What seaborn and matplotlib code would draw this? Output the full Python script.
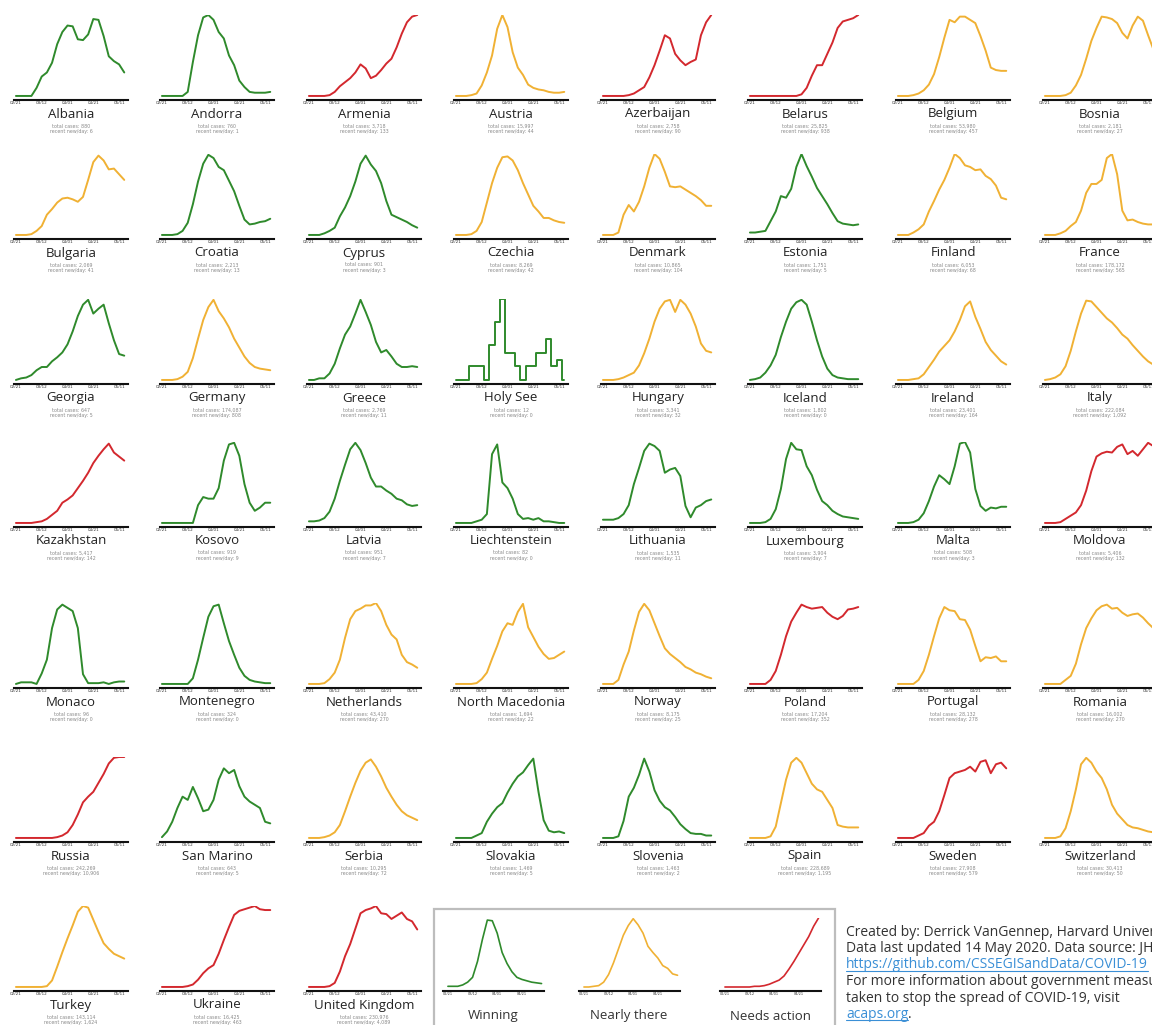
import matplotlib
matplotlib.use("Agg")
import matplotlib.pyplot as plt
import seaborn as sns
from matplotlib.patches import Rectangle
from matplotlib.lines import Line2D

# ---------------- data ----------------
days = list(range(0, 85, 4))              # days after 02/21
tick_days = [0, 20, 40, 60, 80]
tick_labels = ["02/21", "03/12", "04/01", "04/21", "05/11"]
legend_days = list(range(0, 77, 4))
legend_tick_days = [0, 20, 40, 60]
legend_tick_labels = ["02/21", "03/12", "04/01", "04/21"]

# new cases per day, smoothed, in % of each country's own peak
albania = [0, 0, 0, 0, 10, 24, 29, 41, 64, 79, 87, 86, 70, 69, 76, 95, 94, 74, 49, 43, 39, 29]
andorra = [0, 0, 0, 0, 0, 5, 42, 75, 97, 100, 94, 79, 71, 50, 38, 19, 11, 5, 4, 4, 4, 5]
armenia = [0, 0, 0, 0, 1, 5, 12, 17, 22, 29, 39, 34, 22, 25, 32, 40, 46, 60, 77, 91, 98, 100]
austria = [0, 0, 0, 1, 3, 13, 29, 50, 83, 100, 85, 54, 35, 26, 14, 10, 8, 7, 5, 4, 4, 5]
azerbaijan = [0, 0, 0, 0, 0, 1, 3, 7, 11, 23, 38, 56, 75, 71, 52, 44, 38, 42, 45, 75, 91, 100]
belarus = [0, 0, 0, 0, 0, 0, 0, 0, 0, 0, 2, 10, 25, 38, 38, 52, 66, 84, 92, 94, 96, 100]
belgium = [0, 0, 0, 1, 3, 7, 14, 27, 48, 72, 94, 91, 98, 98, 94, 90, 74, 56, 35, 32, 31, 31]
bosnia = [0, 0, 0, 0, 1, 4, 13, 26, 46, 68, 84, 98, 97, 95, 90, 78, 71, 87, 98, 93, 75, 58]
bulgaria = [0, 0, 0, 1, 5, 11, 25, 32, 40, 45, 46, 44, 41, 47, 68, 90, 98, 92, 81, 82, 75, 68]
croatia = [0, 0, 0, 1, 5, 15, 38, 66, 88, 99, 95, 84, 80, 67, 54, 36, 19, 13, 14, 16, 17, 20]
cyprus = [0, 0, 0, 2, 5, 9, 23, 34, 48, 66, 88, 98, 87, 79, 64, 42, 25, 22, 19, 16, 12, 9]
czechia = [0, 0, 0, 1, 5, 16, 40, 64, 83, 96, 97, 92, 80, 64, 50, 36, 29, 21, 21, 18, 16, 15]
denmark = [0, 0, 0, 3, 25, 37, 29, 41, 60, 83, 100, 94, 78, 60, 59, 60, 56, 52, 48, 43, 36, 36]
estonia = [3, 3, 4, 5, 17, 29, 48, 46, 57, 84, 100, 85, 72, 58, 48, 38, 27, 17, 14, 13, 12, 13]
finland = [0, 0, 0, 3, 7, 13, 29, 42, 56, 68, 83, 100, 95, 86, 84, 80, 81, 73, 69, 61, 46, 44]
france = [0, 0, 0, 2, 5, 11, 16, 30, 52, 63, 63, 68, 95, 100, 75, 30, 18, 19, 16, 14, 13, 13]
georgia = [0, 2, 3, 6, 12, 16, 16, 23, 28, 34, 44, 60, 79, 93, 99, 82, 88, 93, 70, 49, 32, 30]
germany = [0, 0, 0, 1, 4, 10, 27, 51, 74, 90, 99, 85, 76, 65, 51, 40, 29, 21, 16, 14, 13, 12]
greece = [0, 0, 2, 2, 8, 20, 39, 56, 66, 82, 99, 84, 68, 47, 34, 37, 29, 20, 16, 16, 17, 16]
holy_see = [0, 0, 0, 17, 17, 17, 0, 43, 72, 100, 33, 33, 17, 0, 17, 17, 33, 33, 50, 17, 25, 0]
hungary = [0, 0, 0, 1, 3, 6, 9, 18, 33, 51, 72, 88, 97, 99, 84, 99, 93, 82, 66, 45, 36, 34]
iceland = [0, 1, 3, 9, 18, 31, 53, 72, 88, 96, 99, 93, 72, 49, 29, 14, 6, 3, 2, 1, 1, 1]
ireland = [0, 0, 0, 1, 2, 7, 16, 25, 35, 42, 49, 60, 74, 91, 97, 78, 63, 47, 37, 30, 23, 19]
italy = [0, 1, 3, 7, 17, 36, 60, 82, 98, 97, 90, 83, 76, 71, 64, 56, 51, 43, 36, 29, 23, 19]
kazakhstan = [0, 0, 0, 0, 1, 2, 5, 10, 15, 25, 29, 34, 43, 52, 62, 74, 83, 91, 98, 87, 82, 77]
kosovo = [0, 0, 0, 0, 0, 0, 0, 22, 32, 30, 30, 43, 77, 97, 99, 83, 48, 25, 15, 19, 25, 25]
latvia = [2, 2, 3, 6, 14, 30, 52, 72, 91, 99, 90, 74, 56, 45, 45, 40, 36, 30, 28, 23, 21, 22]
liechtenstein = [0, 0, 0, 0, 2, 4, 11, 85, 97, 50, 43, 30, 11, 5, 6, 4, 6, 2, 2, 1, 0, 0]
lithuania = [4, 4, 4, 6, 11, 22, 48, 68, 89, 98, 95, 89, 62, 66, 68, 58, 21, 7, 19, 22, 27, 29]
luxembourg = [0, 0, 0, 1, 5, 17, 42, 79, 99, 91, 90, 70, 59, 41, 27, 22, 15, 11, 8, 7, 6, 5]
malta = [0, 0, 0, 1, 4, 12, 27, 45, 59, 54, 48, 70, 98, 100, 87, 42, 21, 15, 19, 18, 20, 20]
moldova = [0, 0, 0, 1, 5, 9, 13, 22, 40, 64, 82, 86, 88, 87, 94, 97, 85, 89, 83, 91, 99, 95]
monaco = [0, 2, 2, 2, 0, 13, 30, 69, 92, 98, 94, 90, 69, 12, 1, 1, 1, 2, 0, 2, 3, 3]
montenegro = [0, 0, 0, 0, 0, 0, 7, 30, 57, 83, 96, 98, 75, 53, 36, 20, 10, 5, 3, 2, 1, 1]
netherlands = [0, 0, 0, 1, 6, 14, 30, 57, 80, 90, 93, 97, 97, 100, 90, 73, 61, 55, 36, 27, 24, 20]
north_macedonia = [0, 0, 0, 0, 1, 6, 14, 31, 47, 65, 75, 73, 89, 99, 70, 58, 46, 37, 31, 32, 36, 40]
norway = [0, 0, 0, 5, 24, 40, 66, 89, 99, 91, 75, 59, 44, 37, 32, 27, 21, 18, 14, 12, 9, 7]
poland = [0, 0, 0, 0, 5, 16, 36, 59, 77, 88, 98, 95, 93, 94, 95, 88, 83, 80, 84, 92, 93, 95]
portugal = [0, 0, 0, 0, 5, 16, 36, 59, 81, 95, 91, 90, 80, 79, 67, 47, 28, 33, 32, 34, 28, 28]
romania = [0, 0, 0, 0, 5, 10, 25, 49, 69, 81, 91, 96, 98, 93, 94, 88, 84, 86, 87, 82, 75, 69]
russia = [0, 0, 0, 0, 0, 0, 0, 0, 1, 3, 7, 16, 29, 44, 51, 57, 68, 79, 92, 99, 100, 100]
san_marino = [1, 8, 20, 37, 51, 47, 63, 49, 33, 35, 47, 72, 86, 80, 84, 64, 51, 45, 41, 37, 20, 18]
serbia = [0, 0, 0, 1, 3, 7, 16, 33, 51, 68, 83, 93, 97, 88, 76, 62, 51, 41, 33, 28, 25, 22]
slovakia = [0, 0, 0, 0, 3, 6, 20, 30, 38, 43, 56, 67, 76, 81, 90, 98, 57, 22, 9, 7, 8, 6]
slovenia = [0, 0, 0, 2, 21, 51, 62, 78, 98, 82, 59, 46, 38, 34, 26, 17, 11, 6, 5, 5, 3, 3]
spain = [0, 0, 0, 0, 2, 14, 43, 72, 93, 99, 93, 80, 67, 60, 57, 47, 37, 16, 14, 13, 13, 13]
sweden = [0, 0, 0, 0, 3, 6, 15, 20, 33, 53, 74, 80, 82, 84, 88, 82, 94, 96, 80, 91, 93, 86]
switzerland = [0, 0, 0, 2, 12, 33, 60, 91, 99, 93, 82, 74, 60, 41, 30, 23, 16, 13, 12, 10, 8, 7]
turkey = [0, 0, 0, 0, 0, 0, 1, 8, 25, 43, 60, 76, 93, 100, 98, 83, 68, 54, 47, 41, 38, 35]
ukraine = [0, 0, 0, 0, 0, 1, 3, 9, 17, 23, 27, 41, 58, 74, 89, 94, 96, 98, 100, 96, 95, 95]
united_kingdom = [0, 0, 0, 0, 1, 5, 19, 38, 53, 72, 91, 95, 97, 100, 91, 90, 84, 88, 92, 84, 81, 71]

legend_winning = [1, 1, 1, 3, 7, 14, 37, 69, 97, 96, 78, 50, 34, 22, 14, 11, 9, 7, 6, 5]
legend_nearly = [0, 0, 1, 2, 7, 18, 35, 55, 75, 89, 99, 90, 78, 59, 50, 42, 31, 27, 19, 17]
legend_action = [0, 0, 0, 0, 0, 0, 1, 1, 2, 4, 7, 10, 16, 26, 37, 49, 61, 73, 88, 100]
legend_names = ["Winning", "Nearly there", "Needs action"]

countries = ["Albania", "Andorra", "Armenia", "Austria", "Azerbaijan", "Belarus", "Belgium", "Bosnia",
             "Bulgaria", "Croatia", "Cyprus", "Czechia", "Denmark", "Estonia", "Finland", "France",
             "Georgia", "Germany", "Greece", "Holy See", "Hungary", "Iceland", "Ireland", "Italy",
             "Kazakhstan", "Kosovo", "Latvia", "Liechtenstein", "Lithuania", "Luxembourg", "Malta", "Moldova",
             "Monaco", "Montenegro", "Netherlands", "North Macedonia", "Norway", "Poland", "Portugal", "Romania",
             "Russia", "San Marino", "Serbia", "Slovakia", "Slovenia", "Spain", "Sweden", "Switzerland",
             "Turkey", "Ukraine", "United Kingdom"]
statuses = ["win", "win", "act", "near", "act", "act", "near", "near",
            "near", "win", "win", "near", "near", "win", "near", "near",
            "win", "near", "win", "win", "near", "win", "near", "near",
            "act", "win", "win", "win", "win", "win", "win", "act",
            "win", "win", "near", "near", "near", "act", "near", "near",
            "act", "win", "near", "win", "win", "near", "act", "near",
            "near", "act", "act"]
total_cases = ["880", "760", "3,718", "15,997", "2,758", "25,825", "53,980", "2,181",
               "2,069", "2,213", "901", "8,269", "10,865", "1,751", "6,053", "178,172",
               "647", "174,087", "2,769", "12", "3,341", "1,802", "23,401", "222,084",
               "5,417", "919", "951", "82", "1,535", "3,904", "508", "5,406",
               "96", "324", "43,410", "1,694", "8,175", "17,204", "28,132", "16,002",
               "242,269", "643", "10,295", "1,469", "1,463", "228,689", "27,908", "30,413",
               "143,114", "16,425", "230,976"]
recent_new = ["6", "1", "133", "44", "90", "938", "457", "27",
              "41", "13", "3", "42", "104", "5", "68", "565",
              "5", "808", "11", "0", "32", "0", "164", "1,092",
              "142", "9", "7", "0", "11", "7", "3", "132",
              "0", "0", "270", "22", "25", "352", "278", "270",
              "10,906", "5", "72", "5", "2", "1,195", "579", "50",
              "1,624", "463", "4,089"]
series = [albania, andorra, armenia, austria, azerbaijan, belarus, belgium, bosnia,
          bulgaria, croatia, cyprus, czechia, denmark, estonia, finland, france,
          georgia, germany, greece, holy_see, hungary, iceland, ireland, italy,
          kazakhstan, kosovo, latvia, liechtenstein, lithuania, luxembourg, malta, moldova,
          monaco, montenegro, netherlands, north_macedonia, norway, poland, portugal, romania,
          russia, san_marino, serbia, slovakia, slovenia, spain, sweden, switzerland,
          turkey, ukraine, united_kingdom]

credit_lines = ["Created by: Derrick VanGennep, Harvard University",
                "Data last updated 14 May 2020. Data source: JHU CSSE",
                "https://github.com/CSSEGISandData/COVID-19",
                "For more information about government measures",
                "taken to stop the spread of COVID-19, visit",
                "acaps.org"]

# ---------------- styling ----------------
colors = {"win": "#2f8a2c", "near": "#f0b134", "act": "#d3282e"}
sns.set_theme(style="white")
plt.rcParams["font.family"] = ["DejaVu Sans"]
LABEL_FONT = ["Open Sans", "DejaVu Sans"]

W, H = 1152, 1025
fig = plt.figure(figsize=(W / 100, H / 100), dpi=100)
fig.patch.set_facecolor("white")


def px_rect(left, bottom_y, width, height):
    return [left / W, 1 - bottom_y / H, width / W, height / H]


def style_axes(ax, xlim, ylim, ticks, labels, fs):
    ax.set_xlim(*xlim)
    ax.set_ylim(*ylim)
    for s in ["top", "right", "left"]:
        ax.spines[s].set_visible(False)
    ax.spines["bottom"].set_color("#111111")
    ax.spines["bottom"].set_linewidth(1.5)
    ax.set_yticks([])
    ax.set_xticks(ticks)
    ax.set_xticklabels(labels, fontsize=fs, color="#333333")
    ax.tick_params(axis="x", length=0, pad=0.8)
    ax.set_xlabel("")
    ax.set_ylabel("")
    ax.set_facecolor("none")
    ax.grid(False)


def ftext(x, y, s, **kw):
    return fig.text(x / W, 1 - y / H, s, **kw)


col_left = [14, 160, 307, 454, 601, 748, 896, 1043]
row_axis = [100, 239, 384, 527, 688, 842, 991]
AX_W, AX_H = 114, 85

for k, name in enumerate(countries):
    r, c = divmod(k, 8)
    left = col_left[c]
    base = row_axis[r]
    ax = fig.add_axes(px_rect(left, base, AX_W, AX_H))
    kw = {"drawstyle": "steps-mid"} if name == "Holy See" else {}
    sns.lineplot(x=days, y=series[k], ax=ax, color=colors[statuses[k]], linewidth=1.4, **kw)
    style_axes(ax, (-1.5, 86.9), (-5, 100), tick_days, tick_labels, 3)
    cx = left + AX_W / 2
    ftext(cx, base + 14, name, ha="center", va="center", fontsize=9.5,
          family=LABEL_FONT, color="#222222")
    ftext(cx, base + 26, f"total cases: {total_cases[k]}", ha="center", va="center",
          fontsize=3.4, color="#8a8a8a")
    ftext(cx, base + 31.5, f"recent new/day: {recent_new[k]}", ha="center", va="center",
          fontsize=3.4, color="#8a8a8a")

# ---------------- legend box ----------------
box = Rectangle((434 / W, 1 - 1060 / H), (835 - 434) / W, (1060 - 909) / H,
                transform=fig.transFigure, fill=False, edgecolor="#bdbdbd", linewidth=1.6)
fig.patches.append(box)

leg_left = [443, 579, 720]
leg_centers = [493, 629, 770]
leg_series = [legend_winning, legend_nearly, legend_action]
leg_status = ["win", "near", "act"]
for i in range(3):
    ax = fig.add_axes(px_rect(leg_left[i], 991, 101, 73))
    sns.lineplot(x=legend_days, y=leg_series[i], ax=ax, color=colors[leg_status[i]], linewidth=1.2)
    style_axes(ax, (-4, 78), (-5.8, 100), legend_tick_days, legend_tick_labels, 2.5)
    ftext(leg_centers[i], 1016, legend_names[i], ha="center", va="center", fontsize=9.5,
          family=LABEL_FONT, color="#333333")

# ---------------- credits ----------------
link_color = "#3a8fd6"
line_y = [932, 948.5, 965, 981.5, 998, 1014]
texts = []
for i, line in enumerate(credit_lines):
    col = link_color if i in (2, 5) else "#333333"
    t = ftext(846, line_y[i], line, ha="left", va="center", fontsize=10,
              family=LABEL_FONT, color=col)
    texts.append(t)

fig.canvas.draw()
renderer = fig.canvas.get_renderer()
for i in (2, 5):
    bb = texts[i].get_window_extent(renderer)
    yline = bb.y0 + 1.2
    fig.add_artist(Line2D([bb.x0 / W, bb.x1 / W], [yline / H, yline / H],
                          transform=fig.transFigure, color=link_color, linewidth=0.8))
bb = texts[5].get_window_extent(renderer)
fig.text(bb.x1 / W, 1 - line_y[5] / H, ".", ha="left", va="center", fontsize=10,
         family=LABEL_FONT, color="#333333")

fig.savefig("out.png", dpi=100, facecolor="white")
